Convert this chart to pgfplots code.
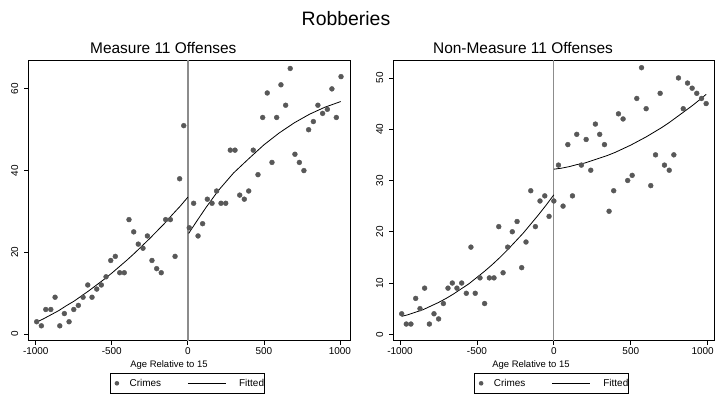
\documentclass[border=0pt]{standalone}
\usepackage{fontspec}
\setmainfont{Liberation Sans}
\usepackage{pgfplots}
\pgfplotsset{compat=1.18}

\definecolor{markgray}{RGB}{88,88,88}
\definecolor{refgray}{RGB}{140,140,140}

% Monthly bins of robbery counts around age 15 (days)
\pgfplotstableread{
x y
-994 3
-963 2
-934 6
-901 6
-873 9
-842 2
-812 5
-781 3
-750 6
-720 7
-689 9
-658 12
-630 9
-599 11
-569 12
-538 14
-507 18
-477 19
-448 15
-418 15
-387 28
-356 25
-326 22
-295 21
-266 24
-236 18
-205 16
-175 15
-146 28
-115 28
-84 19
-54 38
-27 51
9 26
38 32
67 24
97 27
128 33
159 32
189 35
218 32
249 32
279 45
310 45
341 34
371 33
400 35
430 45
461 39
492 53
522 59
553 42
584 53
612 61
643 56
673 65
704 44
733 42
763 40
794 50
825 52
855 56
886 54
917 55
947 60
976 53
1007 63
}\mOne

\pgfplotstableread{
x y
-989 4
-959 2
-929 2
-898 7
-870 5
-840 9
-809 2
-779 4
-749 3
-718 6
-688 9
-660 10
-630 9
-599 10
-569 8
-539 17
-511 8
-480 11
-450 6
-419 11
-389 11
-358 21
-330 12
-300 17
-270 20
-239 22
-209 13
-181 18
-150 28
-120 21
-90 26
-59 27
-31 23
0 26
30 33
60 25
91 37
121 27
149 39
179 33
210 38
240 32
270 41
298 39
329 37
359 24
389 28
420 43
450 42
480 30
509 31
539 46
570 52
600 44
630 29
661 35
691 47
719 33
750 32
780 35
810 50
841 44
869 49
899 48
929 47
960 46
990 45
}\mNon

% Fitted curves, each side of the cutoff
\pgfplotstableread{
x y
-994 2.9
-950 3.7
-900 4.7
-850 5.7
-800 6.9
-750 8.0
-700 9.3
-650 10.6
-600 12.0
-550 13.4
-500 14.9
-450 16.5
-400 18.1
-350 19.8
-300 21.6
-250 23.4
-200 25.3
-150 27.2
-100 29.3
-50 31.3
0 33.5
}\fOneL
\pgfplotstableread{
x y
5 24.6
60 27.7
120 31.0
200 35.1
300 39.4
400 42.9
500 46.3
600 49.2
700 51.7
800 53.8
900 55.5
1005 56.9
}\fOneR
\pgfplotstableread{
x y
-989 3.5
-950 3.8
-900 4.3
-850 4.8
-800 5.5
-750 6.2
-700 7.0
-650 7.9
-600 8.9
-550 9.9
-500 11.1
-450 12.3
-400 13.6
-350 15.0
-300 16.5
-250 18.1
-200 19.7
-150 21.5
-100 23.3
-50 25.2
0 27.2
}\fNonL
\pgfplotstableread{
x y
0 32.2
50 32.4
100 32.7
150 33.1
200 33.4
250 33.9
300 34.4
350 34.9
400 35.5
450 36.2
500 36.9
550 37.7
600 38.5
650 39.4
700 40.3
750 41.3
800 42.4
850 43.5
900 44.6
950 45.8
990 46.8
}\fNonR

\pgfplotsset{
  panel/.style={
    scale only axis, height=280.7bp,
    axis line style={black, line width=0.8bp},
    tick align=outside, tick pos=left, major tick length=4bp,
    tick style={black, line width=0.8bp},
    xtick={-1000,-500,0,500,1000},
    xticklabel style={font=\fontsize{10}{12}\selectfont, inner sep=0pt, anchor=north},
    yticklabel style={font=\fontsize{10}{12}\selectfont, rotate=90, anchor=south, inner sep=0pt},
    xticklabel shift=3bp,
    yticklabel shift=6bp,
    xlabel={Age Relative to 15},
    xlabel style={font=\fontsize{9.5}{11}\selectfont, anchor=base},
    title style={font=\fontsize{15.5}{18}\selectfont, anchor=base, yshift=0pt},
    legend columns=2,
    legend cell align=left,
    legend style={anchor=north, draw=black, line width=0.6bp,
      inner xsep=0pt, inner ysep=6.35bp,
      font=\fontsize{10}{12}\selectfont,
      nodes={inner sep=0pt, text height=7.3bp, text depth=0bp},
      /tikz/every even column/.append style={column sep=0pt}},
  },
  crimes/.style={only marks, mark=*, mark size=2.45bp,
    mark options={fill=markgray, draw=none}, color=markgray,
    legend image code/.code={\path[draw=none, fill=none] (-7bp,0bp) -- (12.7bp,0bp);
      \fill[markgray, draw=none] (0bp,0bp) circle (2.3bp);}},
  fitted/.style={black, line width=0.8bp, no marks,
    legend image code/.code={\path[draw=none, fill=none] (0bp,0bp) -- (78bp,0bp);
      \draw[black, line width=0.8bp] (26.6bp,0bp) -- (65bp,0bp);}},
  cutoff/.style={refgray, line width=1.3bp, forget plot},
}

\begin{document}
\begin{tikzpicture}
\path[use as bounding box] (0bp,0bp) rectangle (715bp,400bp);
\node[anchor=base, font=\fontsize{19.5}{23}\selectfont] at (346bp,374bp) {Robberies};

\begin{axis}[panel, at={(28.3bp,59.3bp)}, anchor=south west, width=321.7bp,
  xmin=-1049, xmax=1066, ymin=-1.64, ymax=67.07,
  xticklabels={-1000,-500,0,500,1000},
  ytick={0,20,40,60}, yticklabels={0,20,40,60},
  title={Measure 11 Offenses},
  title style={at={(axis description cs:0.4196,1.003)}},
  xlabel style={at={(axis description cs:0.4374,-0.0937)}},
  legend style={at={(axis description cs:0.4933,-0.1151)}}]
\addplot[cutoff] coordinates {(0,-1.64) (0,67.07)};
\addplot[crimes] table {\mOne};
\addlegendentry{Crimes}
\addplot[fitted] table {\fOneL};
\addlegendentry{Fitted\hspace{6bp}}
\addplot[fitted, forget plot] table {\fOneR};
\end{axis}

\begin{axis}[panel, at={(393.3bp,59.3bp)}, anchor=south west, width=320.7bp,
  xmin=-1043.5, xmax=1041, ymin=-1.25, ymax=53.5,
  xticklabels={-1000,-500,0,500,\hspace*{-10bp}1000},
  ytick={0,10,20,30,40,50}, yticklabels={0,10,20,30,40,50},
  title={Non-Measure 11 Offenses},
  title style={at={(axis description cs:0.4044,1.003)}},
  xlabel style={at={(axis description cs:0.4294,-0.0937)}},
  legend style={at={(axis description cs:0.4924,-0.1151)}}]
\addplot[cutoff] coordinates {(0,-1.25) (0,53.5)};
\addplot[crimes] table {\mNon};
\addlegendentry{Crimes}
\addplot[fitted] table {\fNonL};
\addlegendentry{Fitted\hspace{6bp}}
\addplot[fitted, forget plot] table {\fNonR};
\end{axis}
\end{tikzpicture}
\end{document}
